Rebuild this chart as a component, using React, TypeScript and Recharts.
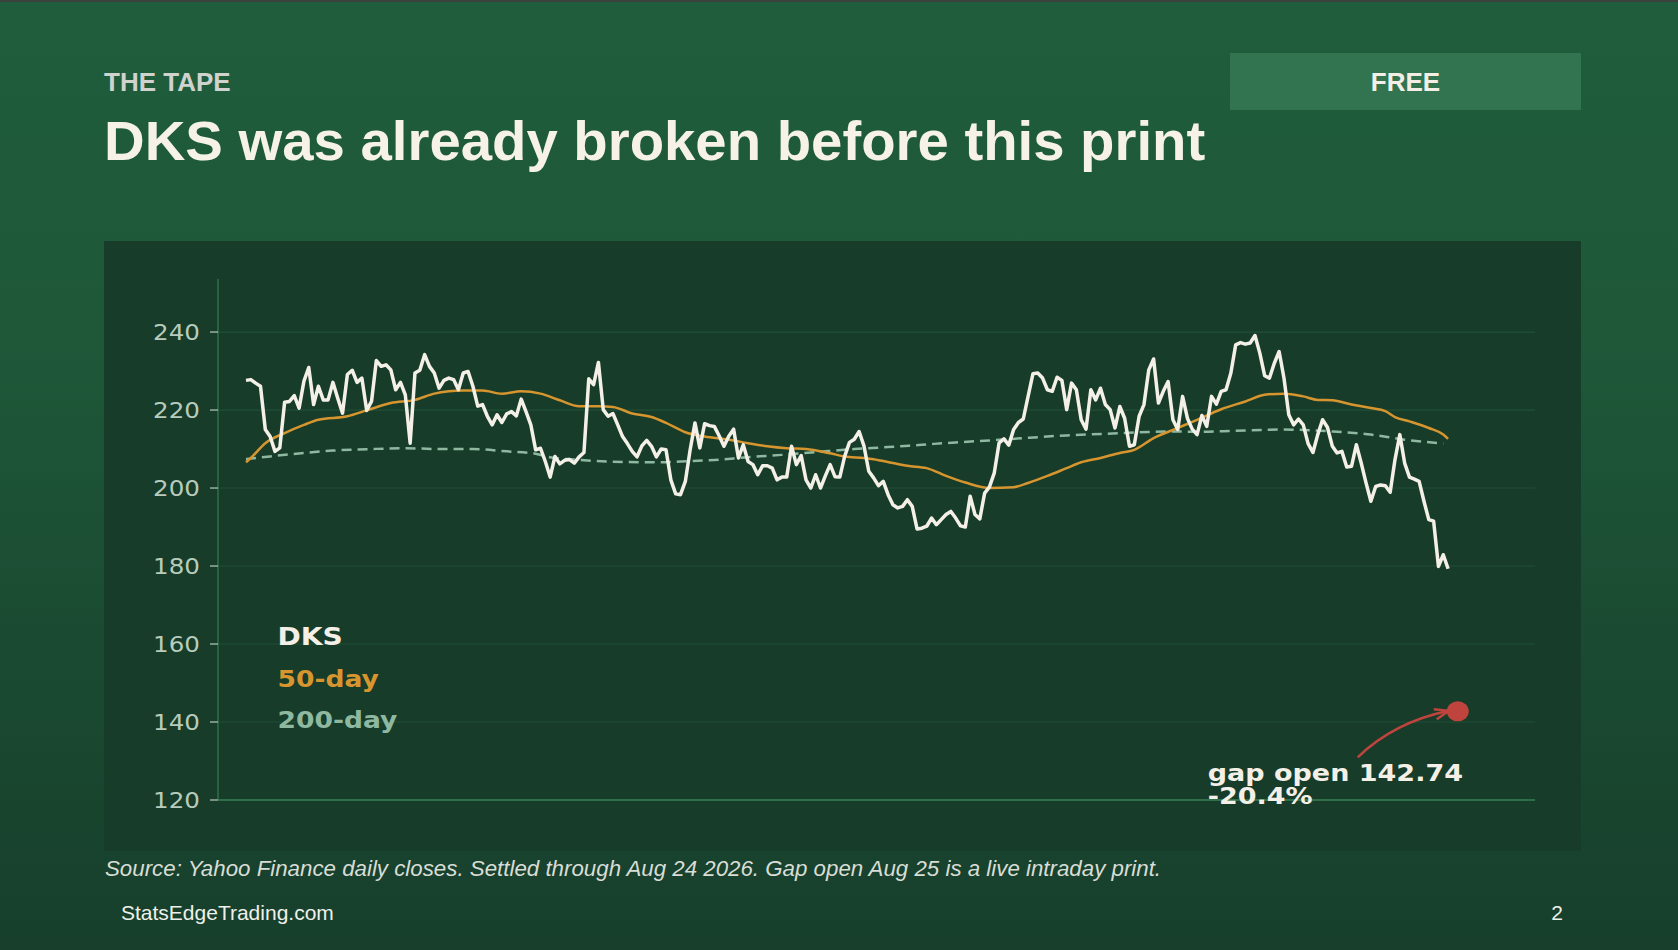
import { LineChart, Line, XAxis, YAxis, CartesianGrid, ReferenceDot, ReferenceLine } from 'recharts'

// DKS daily closes (one per trading day, oldest first)
const closes = [
  227.6, 227.8, 226.9, 226.1, 215, 213.2, 209.4, 210.3, 222, 222.2,
  223.7, 220.5, 227.4, 230.9, 221.4, 226.1, 222.6, 222.6, 227.1, 223,
  219.2, 229.1, 230.2, 227.1, 228.2, 219.9, 222.2, 232.7, 231.2, 231.6,
  230.3, 225.2, 227.1, 223.9, 211.5, 229.5, 230.2, 234.2, 231.2, 229.5,
  225.6, 227.6, 228.2, 227.8, 225.2, 229.5, 229.9, 226.1, 221, 221.4,
  218.4, 216.2, 218.8, 216.8, 219, 219.6, 218.5, 222.8, 219.6, 216.2,
  209.8, 210.2, 206.8, 202.8, 208.1, 206.2, 207.1, 207.3, 206.4, 208,
  209.1, 228, 226.5, 232.2, 220.1, 218.4, 219.1, 216.2, 213.2, 211.4,
  209.4, 208, 210.8, 212.2, 210.7, 208, 210, 209.8, 202.1, 198.5,
  198.3, 201.7, 209.8, 216.7, 210.3, 216.5, 216, 215.8, 213.4, 210.7,
  213.3, 215.1, 207.7, 211.1, 206.8, 206, 203.4, 205.7, 205.7, 205.1,
  202.1, 202.8, 202.8, 210.7, 206, 208.3, 202.1, 200, 203.4, 200,
  203.1, 206, 202.9, 202.8, 208.1, 211.7, 212.5, 214.5, 210.8, 204.3,
  202.6, 200.6, 201.7, 198.3, 195.7, 194.9, 195.3, 197, 195.3, 189.5,
  189.7, 190.2, 192.3, 190.6, 191.9, 193.2, 194, 192.3, 190.3, 190,
  197.9, 193.2, 192.1, 198.7, 200.3, 203.9, 211.6, 212.6, 211, 215,
  216.8, 217.7, 223.5, 229.3, 229.5, 228.2, 225.2, 224.8, 228.4, 227.6,
  220.1, 226.9, 225.2, 217.5, 215.1, 225.2, 222.6, 225.6, 221.4, 220.1,
  215.4, 220.9, 217.9, 210.7, 211.1, 218.4, 221.4, 230.3, 233.1, 221.8,
  224.8, 227.3, 217.5, 215, 223.5, 217.9, 215.1, 213.7, 218.6, 215.8,
  223.5, 221.5, 224.8, 225.2, 229.5, 236.7, 237.3, 236.9, 237.2, 239.1,
  234.6, 228.8, 228.2, 232, 235, 228.2, 218.8, 216.2, 217.7, 216.2,
  211.4, 209.1, 213.7, 217.5, 215.6, 210.8, 209, 209.4, 205.4, 205.6,
  211.1, 206.4, 201.3, 196.6, 200.4, 200.8, 200.6, 198.9, 207.3, 213.7,
  206.4, 202.8, 202.3, 201.7, 196.6, 191.9, 191.5, 179.9, 182.9, 179.3,
]

// 50-day moving average, read at points along the curve: [day index, value]
const ma50Points: [number, number][] = [
  [0, 206.6], [1, 207.7], [4, 211.5], [8, 214.1], [12, 216.2], [15, 217.5],
  [21, 218.4], [25, 219.9], [30, 221.8], [35, 222.6], [39, 224.2], [42, 224.8],
  [45, 225], [49, 225], [53, 224.2], [57, 224.8], [61, 224.2], [65, 222.5],
  [69, 221], [73, 221], [76, 220.8], [80, 219.1], [84, 218.2], [87, 216.7],
  [91, 214.3], [95, 213.2], [100, 212.4], [104, 211.5], [108, 210.7], [112, 210.2],
  [116, 210], [121, 208.9], [124, 208.1], [128, 207.7], [130, 207.4], [134, 206.4],
  [137, 205.7], [141, 205.1], [145, 203.1], [149, 201.4], [154, 200], [159, 200.2],
  [162, 201.3], [166, 203.1], [170, 205.1], [173, 206.6], [177, 207.7], [181, 209],
  [184, 209.8], [188, 212.8], [193, 215.4], [197, 217.5], [202, 220.2], [207, 222.2],
  [211, 223.9], [215, 224.2], [219, 223.5], [222, 222.6], [225, 222.5], [229, 221.4],
  [233, 220.5], [236, 219.7], [238, 218.2], [241, 217.1], [245, 215.4], [248, 213.7],
  [249, 212.6],
]

// 200-day moving average, read at points along the curve: [day index, value]
const ma200Points: [number, number][] = [
  [0, 207.4], [5, 208.1], [12, 209], [18, 209.6], [26, 210], [33, 210.2],
  [40, 210], [47, 210], [54, 209.4], [60, 208.8], [63, 207.9], [68, 207.3],
  [75, 206.8], [85, 206.6], [90, 206.8], [97, 207.2], [104, 207.9], [111, 208.5],
  [118, 209.2], [126, 210], [133, 210.5], [140, 211.1], [147, 211.7], [154, 212.2],
  [161, 212.8], [170, 213.5], [178, 213.9], [185, 214.3], [192, 214.5], [198, 214.4],
  [205, 214.7], [215, 215], [225, 214.5], [233, 213.7], [240, 212.4], [248, 211.4],
]

const yTicks = [120, 140, 160, 180, 200, 220, 240]
const gapOpen = { i: 251, v: 142.74, label: 'gap open 142.74', change: '-20.4%' }

const closeData = closes.map((v, i) => ({ i, v }))
const ma50Data = ma50Points.map(([i, v]) => ({ i, v }))
const ma200Data = ma200Points.map(([i, v]) => ({ i, v }))

const CREAM = '#f4f0e7'
const ORANGE = '#d6952f'
const SAGE = '#8fb8a1'
const RED = '#c0443e'
const SANS = 'Liberation Sans, Arial, sans-serif'

function AxisTick({ x, y, payload }: any) {
  return (
    <text
      transform={`translate(${x},${y}) scale(1.17,1)`}
      textAnchor="end"
      dy="0.36em"
      fill="#b7ccbd"
      fontFamily="DejaVu Sans"
      fontSize={21}
    >
      {payload.value}
    </text>
  )
}

function GapMarker({ cx, cy }: any) {
  const tipX = cx - 9
  const tipY = cy - 0.5
  return (
    <g>
      <path
        d={`M${cx - 100},${cy + 46} Q${cx - 64},${cy + 11} ${tipX},${tipY}`}
        stroke={RED}
        strokeWidth={2.5}
        fill="none"
      />
      <path
        d={`M${tipX - 15},${tipY - 1.5} L${tipX},${tipY} L${tipX - 12},${tipY + 8.5}`}
        stroke={RED}
        strokeWidth={2.5}
        fill="none"
      />
      <ellipse cx={cx} cy={cy} rx={11} ry={10} fill={RED} />
      <g fontFamily="DejaVu Sans" fontWeight="bold" fontSize={22.5} fill={CREAM}>
        <text transform={`translate(${cx - 250},${cy + 69.5}) scale(1.2,1)`}>{gapOpen.label}</text>
        <text transform={`translate(${cx - 250},${cy + 93}) scale(1.2,1)`}>{gapOpen.change}</text>
      </g>
    </g>
  )
}

export default function App() {
  return (
    <div
      style={{
        position: 'absolute',
        left: 0,
        top: 0,
        width: 1678,
        height: 950,
        overflow: 'hidden',
        background: 'linear-gradient(180deg, #1f5d3c 0%, #1e5839 35%, #1a4a31 70%, #173f2c 100%)',
        borderTop: '2px solid #3c413e',
        boxSizing: 'border-box',
      }}
    >
      <div
        style={{
          position: 'absolute',
          left: 104,
          top: 239,
          width: 1477,
          height: 610,
          background: '#173c2a',
        }}
      >
        <LineChart
          width={1477}
          height={610}
          margin={{ top: 38, right: 46, bottom: 51, left: 0 }}
        >
          <CartesianGrid vertical={false} horizontalValues={yTicks} stroke="#224f37" strokeWidth={1.2} />
          <XAxis type="number" dataKey="i" domain={[-5.8, 267]} hide height={0} allowDataOverflow />
          <YAxis
            type="number"
            domain={[120, 253.6]}
            ticks={yTicks}
            width={114}
            axisLine={{ stroke: '#2f7049', strokeWidth: 1.5 }}
            tickLine={{ stroke: '#b7ccbd', strokeWidth: 1.2 }}
            tickSize={8}
            tickMargin={10}
            tick={<AxisTick />}
            allowDataOverflow
          />
          <ReferenceLine y={120} stroke="#2f7049" strokeWidth={2} />
          <Line
            data={ma200Data}
            dataKey="v"
            type="monotone"
            stroke={SAGE}
            strokeWidth={2.5}
            strokeDasharray="10 6"
            dot={false}
            isAnimationActive={false}
          />
          <Line
            data={ma50Data}
            dataKey="v"
            type="monotone"
            stroke={ORANGE}
            strokeWidth={2.5}
            dot={false}
            isAnimationActive={false}
          />
          <Line
            data={closeData}
            dataKey="v"
            type="linear"
            stroke={CREAM}
            strokeWidth={3.5}
            strokeLinejoin="round"
            dot={false}
            isAnimationActive={false}
          />
          <ReferenceDot x={gapOpen.i} y={gapOpen.v} r={10} ifOverflow="visible" shape={<GapMarker />} />
        </LineChart>
      </div>

      <svg
        width={1678}
        height={950}
        style={{ position: 'absolute', left: 0, top: -2, pointerEvents: 'none' }}
      >
        <text x={104} y={91} fontFamily={SANS} fontWeight="bold" fontSize={26} fill="#d0d2cd">
          THE TAPE
        </text>
        <text x={104} y={160} fontFamily={SANS} fontWeight="bold" fontSize={56.3} fill="#f6f2e8">
          DKS was already broken before this print
        </text>
        <rect x={1230} y={53} width={351} height={57} fill="#327350" />
        <text x={1405.5} y={91} textAnchor="middle" fontFamily={SANS} fontWeight="bold" fontSize={26} fill="#f3efe6">
          FREE
        </text>

        <g fontFamily="DejaVu Sans" fontWeight="bold">
          <text transform="translate(277.5,645) scale(1.17,1)" fontSize={24} fill={CREAM}>DKS</text>
          <text transform="translate(277.5,686.5) scale(1.17,1)" fontSize={22.7} fill={ORANGE}>50-day</text>
          <text transform="translate(277.5,727.5) scale(1.17,1)" fontSize={22.7} fill={SAGE}>200-day</text>
        </g>

        <text x={105} y={876} fontFamily={SANS} fontStyle="italic" fontSize={22.3} fill="#d9ddd5">
          Source: Yahoo Finance daily closes. Settled through Aug 24 2026. Gap open Aug 25 is a live intraday print.
        </text>
        <text x={121} y={920} fontFamily={SANS} fontSize={21} fill="#eef0ea">
          StatsEdgeTrading.com
        </text>
        <text x={1563} y={920} textAnchor="end" fontFamily={SANS} fontSize={21} fill="#eef0ea">
          2
        </text>
      </svg>
    </div>
  )
}
